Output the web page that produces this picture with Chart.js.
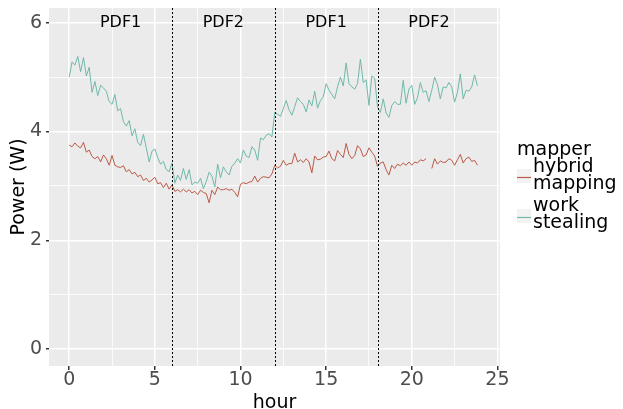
<!DOCTYPE html>
<html>
<head>
<meta charset="utf-8">
<script src="https://cdn.jsdelivr.net/npm/chart.js@4"></script>
<style>
  html, body { margin: 0; padding: 0; background: #fff; }
  #wrap { width: 623px; height: 409px; }
</style>
</head>
<body>
<div id="wrap"><canvas id="powerChart" width="623" height="409"></canvas></div>
<script>
// readings every 10 minutes, hour 0 to 23:50
const hybridMapping = [
    3.75, 3.72, 3.79, 3.73, 3.70, 3.80,
    3.62, 3.66, 3.54, 3.50, 3.54, 3.44,
    3.57, 3.50, 3.38, 3.56, 3.38, 3.35,
    3.34, 3.37, 3.26, 3.30, 3.22, 3.25,
    3.17, 3.20, 3.10, 3.14, 3.07, 3.11,
    3.16, 3.04, 3.06, 2.97, 3.05, 2.94,
    3.02, 2.90, 2.93, 2.89, 2.94, 2.89,
    2.93, 2.87, 2.90, 2.84, 2.92, 2.88,
    2.86, 2.69, 2.92, 2.84, 2.98, 2.93,
    2.93, 2.95, 2.92, 2.94, 2.88, 2.80,
    3.03, 3.06, 3.04, 3.07, 3.08, 3.18,
    3.07, 3.14, 3.17, 3.16, 3.15, 3.22,
    3.38, 3.33, 3.36, 3.47, 3.38, 3.41,
    3.41, 3.60, 3.44, 3.48, 3.43, 3.50,
    3.44, 3.24, 3.55, 3.48, 3.49, 3.53,
    3.54, 3.64, 3.50, 3.46, 3.65, 3.58,
    3.52, 3.78, 3.58, 3.50, 3.56, 3.74,
    3.68, 3.54, 3.57, 3.70, 3.62, 3.55,
    3.36, 3.42, 3.44, 3.30, 3.20, 3.38,
    3.32, 3.40, 3.37, 3.42, 3.38, 3.44,
    3.38, 3.44, 3.42, 3.48, 3.46, 3.50,
    null, 3.32, 3.50, 3.40, 3.46, 3.43,
    3.44, 3.50, 3.47, 3.38, 3.48, 3.58,
    3.42, 3.50, 3.53, 3.45, 3.47, 3.38
];
const workStealing = [
    5.00, 5.28, 5.22, 5.38, 5.10, 5.36,
    5.02, 5.18, 4.72, 4.92, 4.66, 4.85,
    4.80, 4.74, 4.55, 4.50, 4.68, 4.38,
    4.42, 4.18, 4.10, 4.20, 3.92, 4.05,
    3.80, 3.74, 3.95, 3.70, 3.44, 3.64,
    3.68, 3.52, 3.40, 3.45, 3.30, 3.26,
    3.42, 3.05, 3.20, 3.10, 3.32, 3.12,
    3.30, 3.02, 3.07, 3.05, 3.14, 2.95,
    3.08, 3.25, 3.18, 2.98, 3.40, 3.15,
    3.35, 3.26, 3.20, 3.36, 3.42, 3.50,
    3.42, 3.66, 3.55, 3.52, 3.72, 3.66,
    3.47, 3.88, 3.85, 3.93, 3.96, 3.90,
    4.35, 4.32, 4.28, 4.42, 4.57, 4.40,
    4.30, 4.46, 4.62, 4.55, 4.50, 4.36,
    4.58, 4.47, 4.74, 4.43, 4.57, 4.64,
    4.88, 4.76, 4.68, 4.60, 4.82, 5.00,
    4.84, 5.26, 4.88, 4.82, 4.78, 4.88,
    5.33, 4.90, 4.95, 4.48, 5.02, 4.98,
    4.45, 4.35, 4.60, 4.34, 4.26, 4.48,
    4.55, 4.50, 4.50, 4.94, 4.52, 4.78,
    4.85, 4.50, 4.62, 4.90, 4.72, 4.75,
    4.55, 4.76, 5.00, 4.86, 4.60, 4.82,
    4.80, 4.90, 4.82, 4.54, 4.72, 5.06,
    4.60, 4.76, 4.74, 4.82, 5.04, 4.84
];
const seriesNames = ['hybrid\nmapping', 'work\nstealing'];
const seriesColors = ['#bb5a46', '#6fb9ab'];
const xTicks = [0, 2.5, 5, 7.5, 10, 12.5, 15, 17.5, 20, 22.5, 25];
const yTicks = [0, 1, 2, 3, 4, 5, 6];
const phaseBreaks = [6, 12, 18];
const phaseLabels = ['PDF1', 'PDF2', 'PDF1', 'PDF2'];
const phaseCenters = [3, 9, 15, 21];

const FONT = 'DejaVu Sans';

function toPoints(values) {
    return values.map((v, i) => ({ x: i / 6, y: v }));
}

const isMajor = v => v % 5 === 0;

function noPadding(s) {
    s.paddingTop = 0;
    s.paddingBottom = 0;
    s.paddingLeft = 0;
    s.paddingRight = 0;
}

// grey panel + phase lines + labels + legend
const decor = {
    id: 'decor',
    beforeDraw(chart) {
        const { ctx, chartArea: a } = chart;
        ctx.save();
        ctx.fillStyle = '#ebebeb';
        ctx.fillRect(a.left, a.top, a.right - a.left, a.bottom - a.top);
        ctx.restore();
    },
    afterDatasetsDraw(chart) {
        const { ctx, chartArea: a, scales } = chart;
        ctx.save();
        ctx.strokeStyle = '#000';
        ctx.lineWidth = 1;
        ctx.setLineDash([2, 2]);
        phaseBreaks.forEach(b => {
            const px = Math.round(scales.x.getPixelForValue(b)) + 0.5;
            ctx.beginPath();
            ctx.moveTo(px, a.top);
            ctx.lineTo(px, a.bottom);
            ctx.stroke();
        });
        ctx.setLineDash([]);
        ctx.fillStyle = '#000';
        ctx.font = '16px "' + FONT + '"';
        ctx.textAlign = 'center';
        ctx.textBaseline = 'middle';
        phaseLabels.forEach((t, i) => {
            ctx.fillText(t, scales.x.getPixelForValue(phaseCenters[i]), scales.y.getPixelForValue(6));
        });

        // legend
        const lx = 517;
        ctx.textAlign = 'left';
        ctx.textBaseline = 'alphabetic';
        ctx.font = '19px "' + FONT + '"';
        ctx.fillText('mapper', lx, 155);
        const keyTop = [169, 209];
        const textBase = [[172, 189], [211, 228]];
        seriesNames.forEach((name, i) => {
            ctx.fillStyle = '#f2f2f2';
            ctx.fillRect(lx, keyTop[i], 14, 14);
            ctx.strokeStyle = seriesColors[i];
            ctx.lineWidth = 1.2;
            ctx.beginPath();
            ctx.moveTo(lx, keyTop[i] + 8.5);
            ctx.lineTo(lx + 14, keyTop[i] + 8.5);
            ctx.stroke();
            ctx.fillStyle = '#000';
            name.split('\n').forEach((line, j) => ctx.fillText(line, lx + 16, textBase[i][j]));
        });
        ctx.restore();
    }
};

const ctx = document.getElementById('powerChart').getContext('2d');
const powerChart = new Chart(ctx, {
    type: 'line',
    data: {
        datasets: [
            {
                label: 'hybrid mapping',
                data: toPoints(hybridMapping),
                borderColor: seriesColors[0],
                borderWidth: 1,
                pointRadius: 0,
                spanGaps: false
            },
            {
                label: 'work stealing',
                data: toPoints(workStealing),
                borderColor: seriesColors[1],
                borderWidth: 1,
                pointRadius: 0,
                spanGaps: false
            }
        ]
    },
    options: {
        responsive: false,
        animation: false,
        devicePixelRatio: 1,
        layout: { padding: { top: 8, right: 123, left: 0, bottom: 0 } },
        plugins: { legend: { display: false }, tooltip: { enabled: false } },
        scales: {
            x: {
                type: 'linear',
                min: -1.18,
                max: 25.15,
                afterBuildTicks: s => { s.ticks = xTicks.map(v => ({ value: v })); },
                afterFit: s => { s.height = 43; noPadding(s); },
                border: { display: false },
                grid: {
                    color: '#fff',
                    lineWidth: c => isMajor(c.tick.value) ? 1.5 : 0.8,
                    tickColor: c => isMajor(c.tick.value) ? '#333' : 'rgba(0,0,0,0)',
                    tickLength: 4
                },
                ticks: {
                    color: '#4d4d4d',
                    font: { family: FONT, size: 19 },
                    padding: -1,
                    maxRotation: 0,
                    autoSkip: false,
                    callback: v => isMajor(v) ? String(v) : ''
                },
                title: {
                    display: true,
                    text: 'hour',
                    color: '#000',
                    font: { family: FONT, size: 19, lineHeight: 0.8 },
                    padding: { top: 0, bottom: -2 }
                }
            },
            y: {
                min: -0.31,
                max: 6.27,
                afterBuildTicks: s => { s.ticks = yTicks.map(v => ({ value: v })); },
                afterFit: s => { s.width = 49; noPadding(s); },
                border: { display: false },
                grid: {
                    color: '#fff',
                    lineWidth: c => c.tick.value % 2 === 0 ? 1.5 : 0.8,
                    tickColor: c => c.tick.value % 2 === 0 ? '#333' : 'rgba(0,0,0,0)',
                    tickLength: 3
                },
                ticks: {
                    color: '#4d4d4d',
                    font: { family: FONT, size: 19 },
                    padding: 4,
                    autoSkip: false,
                    callback: v => v % 2 === 0 ? String(v) : ''
                },
                title: {
                    display: true,
                    text: 'Power (W)',
                    color: '#000',
                    font: { family: FONT, size: 19 },
                    padding: { top: 8, bottom: 0 }
                }
            }
        }
    },
    plugins: [decor]
});
</script>
</body>
</html>
